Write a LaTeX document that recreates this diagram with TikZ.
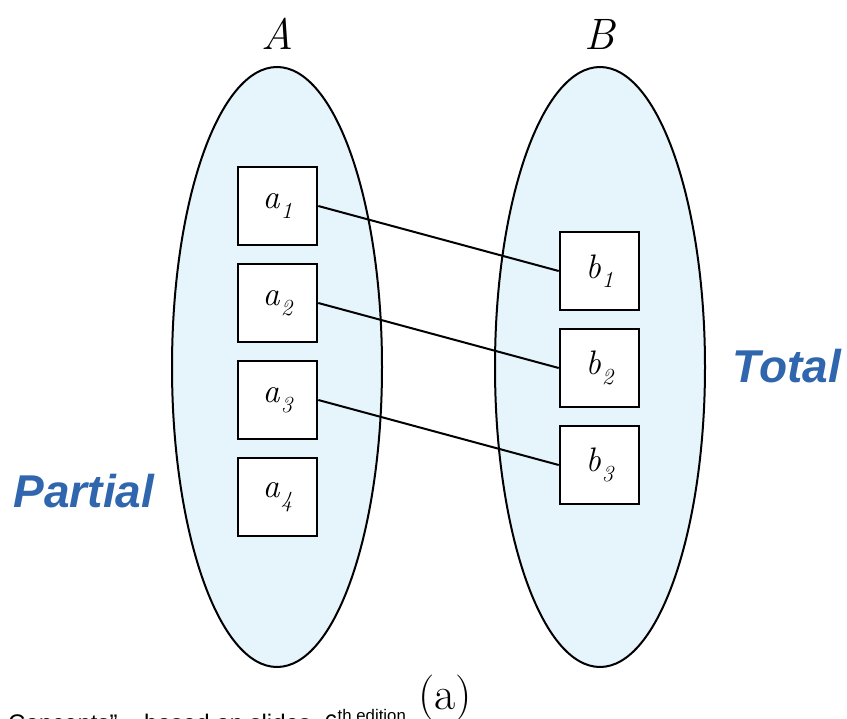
\documentclass[tikz,border=0pt]{standalone}
\usepackage{fontspec}
\newfontfamily\arialfont{Liberation Sans}
\definecolor{setfill}{RGB}{230,244,252}
\definecolor{lblblue}{RGB}{47,102,173}
\newcommand\elemlab[2]{\textit{#1}\kern1pt\raisebox{-0.28em}{\fontsize{23}{23}\selectfont\itshape #2}}
\begin{document}
\begin{tikzpicture}[x=1pt,y=-1pt,
  setshape/.style={draw=black,line width=2pt,fill=setfill},
  elbox/.style={draw=black,line width=2.6pt,fill=white,minimum width=79pt,minimum height=78pt,inner sep=0pt,font=\fontsize{34}{34}\selectfont},
  link/.style={draw=black,line width=2pt},
  setname/.style={font=\fontsize{44}{44}\selectfont\itshape},
  kind/.style={text=lblblue,font=\arialfont\bfseries\itshape\fontsize{46}{46}\selectfont}
]
\useasboundingbox (0,0) rectangle (847,719);
\clip (0,0) rectangle (847,719);
\draw[setshape] (277,367) ellipse [x radius=105, y radius=300];
\draw[setshape] (600,367) ellipse [x radius=105, y radius=300];
\node[setname] (A) at (277,34) {A};
\node[setname] (B) at (600,34) {B};
\node[elbox] (a1) at (277.5,206) {\elemlab{a}{1}};
\node[elbox] (a2) at (277.5,303) {\elemlab{a}{2}};
\node[elbox] (a3) at (277.5,400) {\elemlab{a}{3}};
\node[elbox] (a4) at (277.5,497) {\elemlab{a}{4}};
\node[elbox] (b1) at (599.5,271) {\elemlab{b}{1}};
\node[elbox] (b2) at (599.5,368) {\elemlab{b}{2}};
\node[elbox] (b3) at (599.5,465) {\elemlab{b}{3}};
\draw[link] (a1.east) -- (b1.west);
\draw[link] (a2.east) -- (b2.west);
\draw[link] (a3.east) -- (b3.west);
\node[kind] (tot) at (787,366) {Total};
\node[kind] (par) at (84,491) {Partial};
\node[font=\fontsize{46}{46}\selectfont] (lab) at (445,698) {(a)};
\node[anchor=base west,inner sep=0pt,font=\arialfont\fontsize{24}{24}\selectfont] (cap) at (8,731) {Concepts” – based on slides, 6\textsuperscript{th edition}};
\end{tikzpicture}
\end{document}
